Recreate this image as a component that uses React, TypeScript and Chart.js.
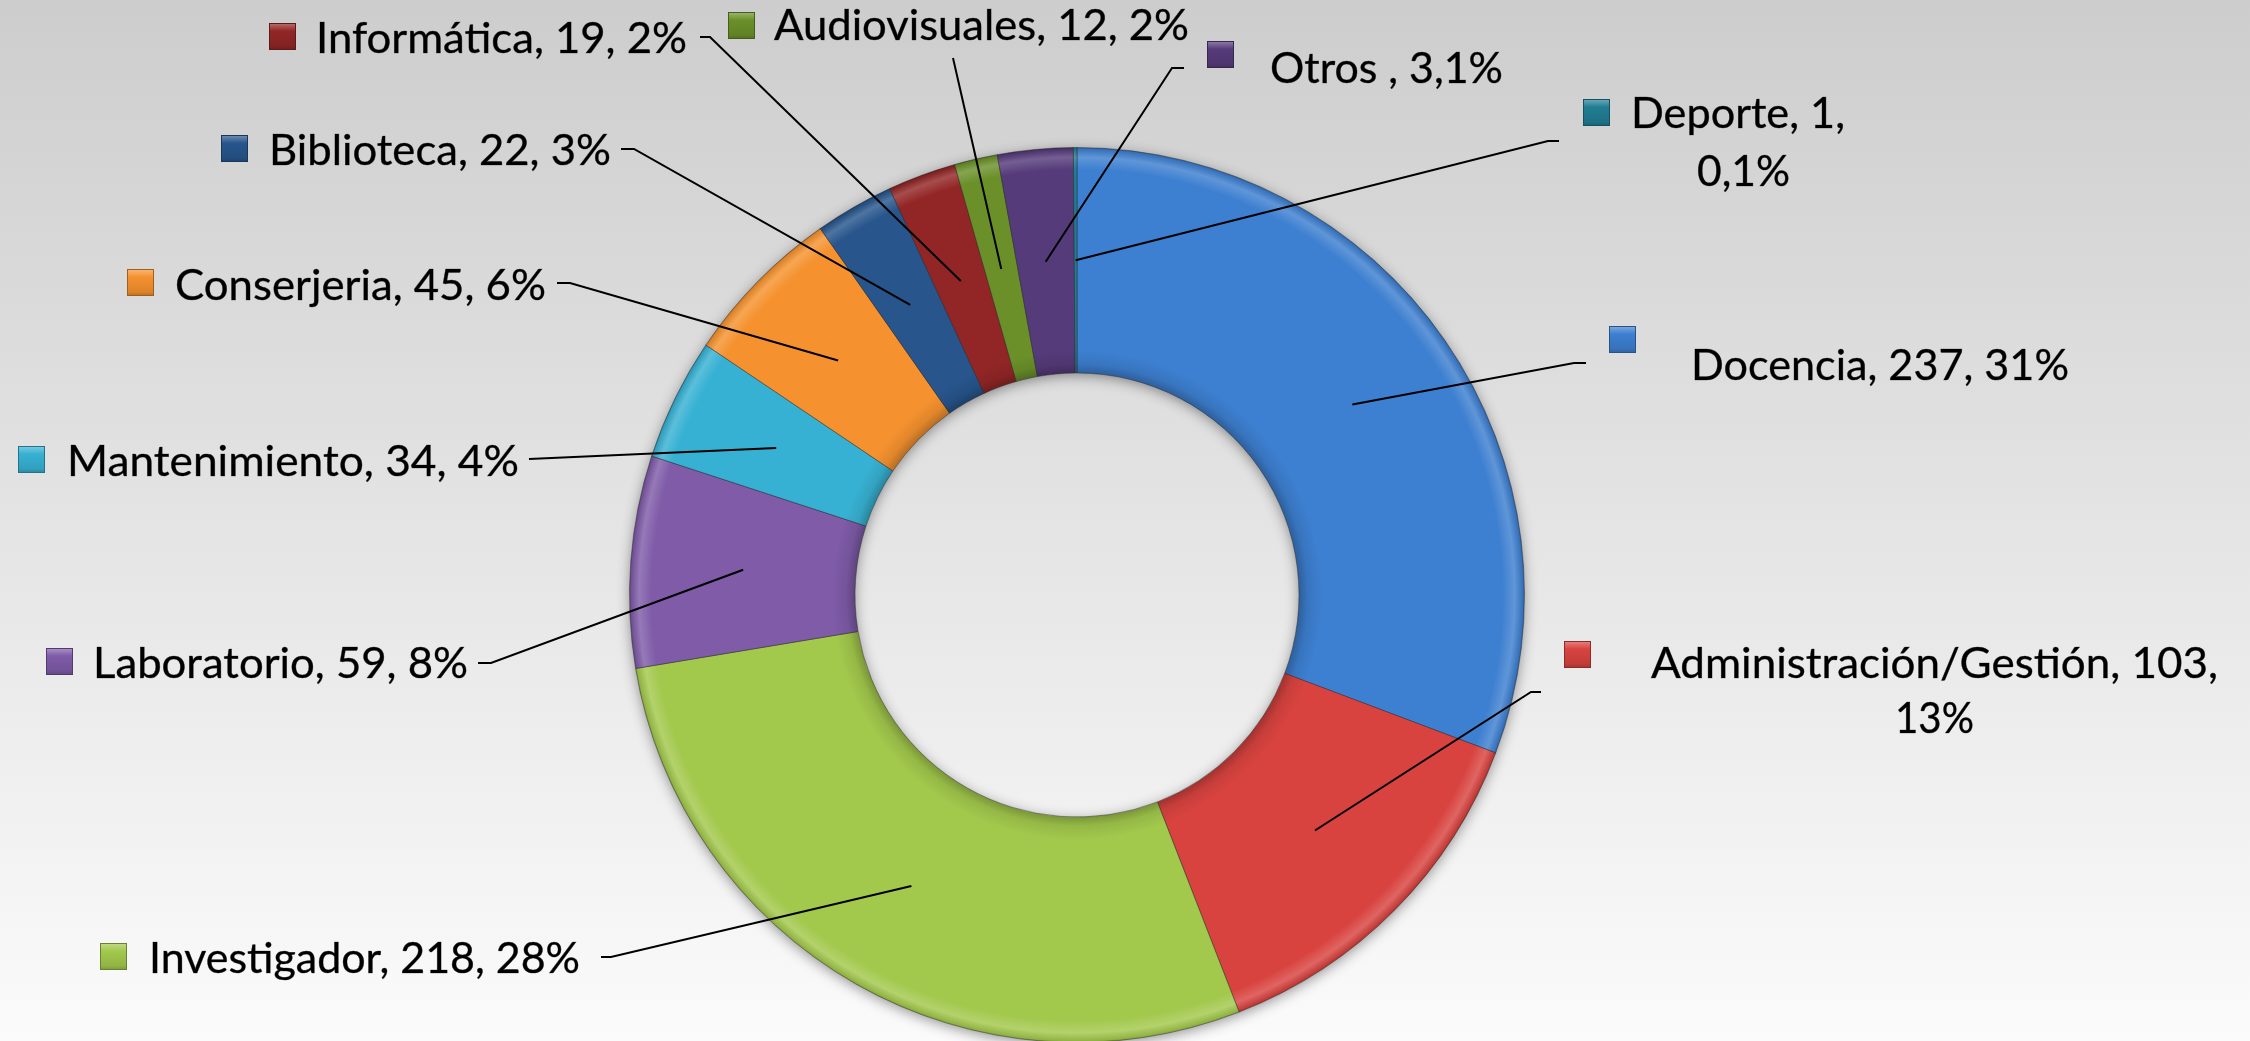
import React, { useEffect, useRef } from 'react';
import { Chart, registerables } from 'chart.js';

Chart.register(...registerables);

// ---------- data ----------
const categories = [
  'Docencia',
  'Administración/Gestión',
  'Investigador',
  'Laboratorio',
  'Mantenimiento',
  'Conserjeria',
  'Biblioteca',
  'Informática',
  'Audiovisuales',
  'Otros',
  'Deporte',
];

const values = [237, 103, 218, 59, 34, 45, 22, 19, 12, 21, 1];

const labelLines: string[][] = [
  ['Docencia, 237, 31%'],
  ['Administración/Gestión, 103,', '13%'],
  ['Investigador, 218, 28%'],
  ['Laboratorio, 59, 8%'],
  ['Mantenimiento, 34, 4%'],
  ['Conserjeria, 45, 6%'],
  ['Biblioteca, 22, 3%'],
  ['Informática, 19, 2%'],
  ['Audiovisuales, 12, 2%'],
  ['Otros , 3,1%'],
  ['Deporte, 1,', '0,1%'],
];

const colors = [
  '#3d7fd0',
  '#d8433f',
  '#a2c84c',
  '#7f5ba8',
  '#37b1d3',
  '#f5922f',
  '#27558c',
  '#922626',
  '#6b9029',
  '#553b7a',
  '#217d93',
];

// ---------- layout (label boxes & leader elbows) ----------
type Line = { x: number; y: number; w: number };
type LabelLayout = { mx: number; my: number; lines: Line[]; leader: number[][] };

const labelLayout: LabelLayout[] = [
  { mx: 1609, my: 326, lines: [{ x: 1691, y: 380, w: 378 }], leader: [[1586, 363], [1574, 363]] },
  {
    mx: 1564, my: 641,
    lines: [{ x: 1651, y: 678, w: 567 }, { x: 1895, y: 733, w: 79 }],
    leader: [[1541, 692], [1531, 692]],
  },
  { mx: 100, my: 943, lines: [{ x: 149, y: 973, w: 431 }], leader: [[601, 957], [611, 957]] },
  { mx: 46, my: 648, lines: [{ x: 93, y: 678, w: 375 }], leader: [[478, 663], [491, 663]] },
  { mx: 18, my: 446, lines: [{ x: 67, y: 476, w: 452 }], leader: [[529, 459]] },
  { mx: 127, my: 269, lines: [{ x: 175, y: 300, w: 371 }], leader: [[557, 283], [570, 283]] },
  { mx: 221, my: 135, lines: [{ x: 269, y: 165, w: 342 }], leader: [[621, 149], [634, 149]] },
  { mx: 269, my: 23, lines: [{ x: 316, y: 53, w: 371 }], leader: [[700, 37], [710, 37]] },
  { mx: 728, my: 12, lines: [{ x: 774, y: 40, w: 415 }], leader: [[953, 58]] },
  { mx: 1207, my: 41, lines: [{ x: 1270, y: 83, w: 233 }], leader: [[1184, 68], [1172, 68]] },
  {
    mx: 1583, my: 99,
    lines: [{ x: 1631, y: 128, w: 214 }, { x: 1697, y: 186, w: 93 }],
    leader: [[1559, 141], [1548, 141]],
  },
];

const W = 2250;
const H = 1041;
const CH = 1100;
const INNER = 222;
const MARK = 27;
const FONT = '43px Lato, "Open Sans", sans-serif';

function mix(hex: string, target: number, amt: number): string {
  const n = parseInt(hex.slice(1), 16);
  const r = (n >> 16) & 255, g = (n >> 8) & 255, b = n & 255;
  const f = (c: number) => Math.round(c + (target - c) * amt);
  return `rgb(${f(r)},${f(g)},${f(b)})`;
}

const backgroundPlugin = {
  id: 'bgGradient',
  beforeDraw(chart: any) {
    const ctx = chart.ctx;
    ctx.save();
    const g = ctx.createLinearGradient(0, 0, 0, H);
    g.addColorStop(0, '#cdcdcd');
    g.addColorStop(1, '#fbfbfb');
    ctx.fillStyle = g;
    ctx.fillRect(0, 0, chart.width, chart.height);
    ctx.restore();
  },
};

const ringShadowPlugin = {
  id: 'ringShadow',
  beforeDatasetsDraw(chart: any) {
    const meta = chart.getDatasetMeta(0);
    const arc = meta.data[0];
    if (!arc) return;
    const { x, y, outerRadius, innerRadius } = arc.getProps(['x', 'y', 'outerRadius', 'innerRadius'], true);
    const ctx = chart.ctx;
    ctx.save();
    ctx.shadowColor = 'rgba(0,0,0,0.45)';
    ctx.shadowBlur = 14;
    ctx.shadowOffsetX = 0;
    ctx.shadowOffsetY = 3;
    ctx.beginPath();
    ctx.arc(x, y, outerRadius - 1, 0, Math.PI * 2);
    ctx.arc(x, y, innerRadius + 1, 0, Math.PI * 2, true);
    ctx.closePath();
    ctx.fillStyle = '#777';
    ctx.fill();
    ctx.restore();
  },
};

const labelsPlugin = {
  id: 'sliceLabels',
  afterDatasetsDraw(chart: any) {
    const meta = chart.getDatasetMeta(0);
    const ctx = chart.ctx;
    ctx.save();
    meta.data.forEach((arc: any, i: number) => {
      const lay = labelLayout[i];
      if (!lay) return;
      const p = arc.tooltipPosition(true);
      // leader line
      ctx.beginPath();
      ctx.strokeStyle = '#000';
      ctx.lineWidth = 2;
      ctx.moveTo(lay.leader[0][0], lay.leader[0][1]);
      for (let k = 1; k < lay.leader.length; k++) ctx.lineTo(lay.leader[k][0], lay.leader[k][1]);
      ctx.lineTo(p.x, p.y);
      ctx.stroke();

      // marker
      const c = colors[i];
      const mg = ctx.createLinearGradient(0, lay.my, 0, lay.my + MARK);
      mg.addColorStop(0, mix(c, 255, 0.35));
      mg.addColorStop(0.3, c);
      mg.addColorStop(0.85, mix(c, 0, 0.1));
      mg.addColorStop(1, mix(c, 0, 0.25));
      ctx.fillStyle = mg;
      ctx.fillRect(lay.mx, lay.my, MARK, MARK);
      ctx.strokeStyle = mix(c, 0, 0.35);
      ctx.lineWidth = 1;
      ctx.strokeRect(lay.mx + 0.5, lay.my + 0.5, MARK - 1, MARK - 1);

      // text
      ctx.fillStyle = '#000';
      ctx.strokeStyle = 'rgba(0,0,0,0.55)';
      ctx.lineWidth = 0.6;
      ctx.font = FONT;
      ctx.textBaseline = 'alphabetic';
      ctx.textAlign = 'left';
      labelLines[i].forEach((txt, li) => {
        const ln = lay.lines[li];
        const mw = ctx.measureText(txt).width;
        const s = Math.max(0.8, Math.min(1.2, ln.w / mw));
        ctx.save();
        ctx.translate(ln.x, ln.y);
        ctx.scale(s, 1);
        ctx.fillText(txt, 0, 0);
        ctx.strokeText(txt, 0, 0);
        ctx.restore();
      });
    });
    ctx.restore();
  },
};

export default function App() {
  const ref = useRef<HTMLCanvasElement | null>(null);

  useEffect(() => {
    const canvas = ref.current;
    if (!canvas) return;
    const chart = new Chart(canvas, {
      type: 'doughnut',
      data: {
        labels: categories,
        datasets: [
          {
            data: values,
            backgroundColor: (ctx: any) => {
              const i = ctx.dataIndex;
              const base = colors[i] || '#888';
              const chartObj = ctx.chart;
              const area = chartObj.chartArea;
              if (!area || ctx.type !== 'data') return base;
              const cx = (area.left + area.right) / 2;
              const cy = (area.top + area.bottom) / 2;
              const outer = Math.min(area.right - area.left, area.bottom - area.top) / 2;
              const g = chartObj.ctx.createRadialGradient(cx, cy, INNER, cx, cy, outer);
              g.addColorStop(0, mix(base, 0, 0.25));
              g.addColorStop(0.04, mix(base, 0, 0.08));
              g.addColorStop(0.1, base);
              g.addColorStop(0.9, base);
              g.addColorStop(0.955, mix(base, 255, 0.18));
              g.addColorStop(0.99, mix(base, 0, 0.1));
              g.addColorStop(1, mix(base, 0, 0.3));
              return g;
            },
            borderColor: 'rgba(40,40,40,0.45)',
            borderWidth: 1,
            hoverOffset: 0,
            offset: 0,
          } as any,
        ],
      },
      options: {
        responsive: false,
        maintainAspectRatio: false,
        animation: false,
        devicePixelRatio: 1,
        cutout: INNER,
        rotation: 0,
        layout: {
          padding: { left: 629, right: W - 1525, top: 147, bottom: CH - 1043 },
        },
        plugins: {
          legend: { display: false },
          tooltip: { enabled: false },
        },
        events: [],
      } as any,
      plugins: [backgroundPlugin, ringShadowPlugin, labelsPlugin],
    });
    return () => chart.destroy();
  }, []);

  return (
    <div
      style={{
        position: 'fixed',
        left: 0,
        top: 0,
        width: W,
        height: H,
        overflow: 'hidden',
        background: '#fbfbfb',
      }}
    >
      <canvas ref={ref} width={W} height={CH} style={{ display: 'block', width: W, height: CH }} />
    </div>
  );
}
